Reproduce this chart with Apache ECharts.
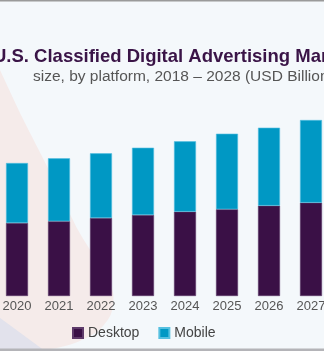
<!DOCTYPE html>
<html><head><meta charset="utf-8">
<script src="https://cdn.jsdelivr.net/npm/echarts@6/dist/echarts.min.js"></script>
<style>html,body{margin:0;padding:0;background:#f4f8fb;overflow:hidden;width:324px;height:351px}#c{position:absolute;left:-4px;top:0;width:336px;height:351px}</style>
</head><body><div id="c"></div>
<script>
const years = ['2020','2021','2022','2023','2024','2025','2026','2027'];
const desktop = [7.3, 7.47, 7.8, 8.1, 8.43, 8.67, 9.03, 9.33];
const mobile = [6.0, 6.3, 6.47, 6.73, 7.04, 7.56, 7.8, 8.27];
const titleText = 'U.S. Classified Digital Advertising Market';
const subtitleText = 'size, by platform, 2018 \u2013 2028 (USD Billion)';

const OX = 4; // chart div is shifted 4px left of the page
const P = (pts) => pts.map(p => [p[0] + OX, p[1]]);
const chart = echarts.init(document.getElementById('c'), null, {renderer:'canvas'});
chart.setOption({
  backgroundColor: '#f4f8fb',
  animation: false,
  graphic: [
    {type:'polygon', z:-10, silent:true,
     shape:{points:P([[-4,62],[0,70],[21,115],[50,172],[78,230],[100,266],[113,292],[111,314],[98,331],[72,344],[40,350],[-4,342]]), smooth:0.25},
     style:{fill:'#f5ebea'}},
    {type:'polygon', z:-9, silent:true,
     shape:{points:P([[-4,315],[45,351],[-4,351]])},
     style:{fill:'#e2e2ec'}},
    {type:'rect', z:-8, silent:true, shape:{x:0,y:0,width:336,height:1.5}, style:{fill:'#9a9a9a'}},
    {type:'rect', z:-8, silent:true, shape:{x:0,y:348.5,width:336,height:2.5}, style:{fill:'#b4b4b8'}},
    {type:'text', left:-7 + OX, top:47, style:{text:titleText, font:'bold 18.5px "Liberation Sans", Arial, sans-serif', fill:'#3a1447'}},
    {type:'text', left:33 + OX, top:69, style:{text:subtitleText, font:'15.5px "Liberation Sans", Arial, sans-serif', fill:'#555555'}}
  ],
  legend: {
    left: 72 + OX, top: 326, padding: 0, itemWidth: 10, itemHeight: 10, itemGap: 19,
    icon: 'rect',
    textStyle: {fontSize: 14, color: '#444', fontFamily: '"Liberation Sans", Arial, sans-serif'},
    data: ['Desktop','Mobile']
  },
  grid: {left: 0, right: 0, top: 96, bottom: 55, containLabel: false},
  xAxis: {
    type: 'category', data: years,
    axisLine: {show:false}, axisTick: {show:false},
    axisLabel: {fontSize: 13, color: '#555', margin: 4, fontFamily: '"Liberation Sans", Arial, sans-serif', interval: 0}
  },
  yAxis: {type:'value', min:0, max:20, show:false},
  series: [
    {name:'Desktop', type:'bar', stack:'t', data: desktop, barWidth: 22,
     itemStyle:{color:'#3a1046', borderColor:'#5e3a6a', borderWidth:0.6}},
    {name:'Mobile', type:'bar', stack:'t', data: mobile, barWidth: 22,
     itemStyle:{color:'#0098c4', borderColor:'#56c0e0', borderWidth:0.6}}
  ]
});
</script></body></html>
